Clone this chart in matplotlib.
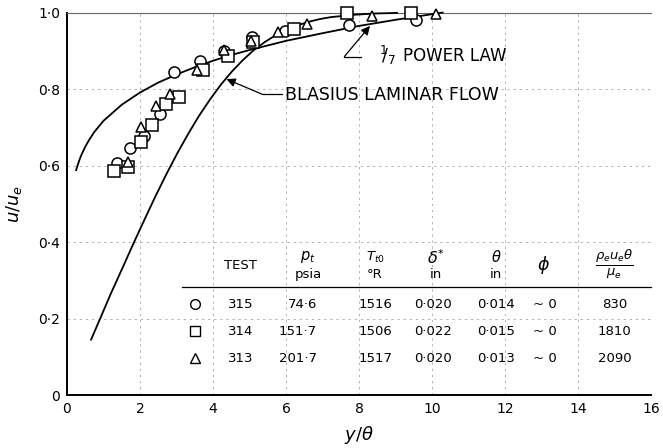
import matplotlib
matplotlib.use("Agg")
import matplotlib.pyplot as plt
from matplotlib.ticker import FuncFormatter

# ---------------- data ----------------
# Test 315 (circles)
circ_x = [1.36, 1.73, 2.12, 2.55, 2.94, 3.64, 4.31, 5.07, 5.96, 7.73, 9.56]
circ_y = [0.606, 0.646, 0.678, 0.736, 0.844, 0.873, 0.899, 0.936, 0.951, 0.968, 0.981]
# Test 314 (squares)
sq_x = [1.28, 1.67, 2.03, 2.33, 2.72, 3.07, 3.73, 4.42, 5.09, 6.23, 7.68, 9.43]
sq_y = [0.587, 0.596, 0.662, 0.706, 0.760, 0.779, 0.851, 0.886, 0.922, 0.957, 0.998, 0.998]
# Test 313 (triangles)
tri_x = [1.67, 2.03, 2.43, 2.81, 3.55, 4.31, 5.04, 5.78, 6.57, 8.35, 10.1]
tri_y = [0.610, 0.701, 0.756, 0.788, 0.851, 0.903, 0.925, 0.949, 0.970, 0.991, 0.997]

pow_x = [0.25, 0.30, 0.35, 0.40, 0.50, 0.60, 0.75, 1.0, 1.5, 2.0, 2.5, 3.0, 3.5,
         4.0, 4.5, 5.0, 6.0, 7.0, 8.0, 9.0, 10.29]
pow_y = [0.588, 0.603, 0.617, 0.629, 0.649, 0.666, 0.688, 0.717, 0.759, 0.791,
         0.817, 0.838, 0.857, 0.874, 0.889, 0.902, 0.926, 0.946, 0.965, 0.981, 1.0]

bla_x = [0.66, 0.90, 1.20, 1.51, 1.81, 2.11, 2.41, 2.71, 3.01, 3.31, 3.61, 3.92,
         4.22, 4.52, 4.82, 5.12, 5.42, 5.72, 6.02, 6.33, 6.63, 6.93, 7.23, 7.83,
         8.43, 9.04]
bla_y = [0.145, 0.198, 0.265, 0.330, 0.394, 0.456, 0.517, 0.575, 0.630, 0.681,
         0.729, 0.773, 0.812, 0.846, 0.876, 0.902, 0.923, 0.941, 0.956, 0.967,
         0.976, 0.983, 0.988, 0.994, 0.9975, 0.999]

# table contents
tests = ["315", "314", "313"]
p_t = ["74·6", "151·7", "201·7"]
T_t0 = ["1516", "1506", "1517"]
delta_star = ["0·020", "0·022", "0·020"]
theta = ["0·014", "0·015", "0·013"]
phi = ["~ 0", "~ 0", "~ 0"]
reynolds = ["830", "1810", "2090"]

x_ticks = list(range(0, 17, 2))
y_ticks = [0, 0.2, 0.4, 0.6, 0.8, 1.0]

# ---------------- figure ----------------
plt.rcParams['font.family'] = ['DejaVu Sans']
plt.rcParams['mathtext.fontset'] = 'dejavusans'

fig = plt.figure(figsize=(6.63, 4.48), dpi=100)
ax = fig.add_axes([0.101, 0.118, 0.881, 0.854])
ax.set_xlim(0, 16)
ax.set_ylim(0, 1.0)
ax.set_xticks(x_ticks)
ax.set_yticks(y_ticks)

def yfmt(v, pos):
    if abs(v) < 1e-9:
        return "0"
    return f"{v:.1f}".replace(".", "·")

ax.yaxis.set_major_formatter(FuncFormatter(yfmt))
ax.tick_params(length=0, labelsize=10, pad=5)

ax.grid(True, color="0.62", linewidth=0.55, linestyle=(0, (3, 5)))
ax.set_axisbelow(True)

for s in ["left", "bottom"]:
    ax.spines[s].set_linewidth(1.4)
ax.spines["right"].set_visible(False)
ax.spines["top"].set_linewidth(0.8)
ax.spines["top"].set_color("0.4")

# curves
ax.plot(pow_x, pow_y, color="black", lw=1.3, zorder=3, clip_on=False)
ax.plot(bla_x, bla_y, color="black", lw=1.3, zorder=3, clip_on=False)

mk = dict(linestyle="none", markerfacecolor="white", markeredgecolor="black",
          markeredgewidth=1.1, zorder=4, clip_on=False)
ax.plot(circ_x, circ_y, marker="o", markersize=8, **mk)
ax.plot(sq_x, sq_y, marker="s", markersize=8, **mk)
ax.plot(tri_x, tri_y, marker="^", markersize=7.5, **mk)

# annotations
arrow = dict(arrowstyle="-|>", color="black", lw=0.9, mutation_scale=13,
             shrinkA=0, shrinkB=0)
ax.annotate("", xy=(8.3, 0.965), xytext=(7.6, 0.885), arrowprops=arrow, zorder=5)
ax.plot([7.6, 8.05], [0.885, 0.885], color="black", lw=0.9)
ax.text(8.55, 0.887, r"$^{1}\!\!/_{7}$", fontsize=12.5, va="center", ha="left")
ax.text(9.2, 0.887, "POWER LAW", fontsize=12, va="center", ha="left")

ax.annotate("", xy=(4.37, 0.826), xytext=(5.36, 0.786), arrowprops=arrow, zorder=5)
ax.plot([5.36, 5.9], [0.786, 0.786], color="black", lw=0.9)
ax.text(5.98, 0.785, "BLASIUS LAMINAR FLOW", fontsize=12.5, va="center", ha="left")

# table
tf = 9.5
hy, hy_top, hy_bot = 0.34, 0.36, 0.315
ax.text(4.75, hy, "TEST", fontsize=tf, ha="center", va="center")
ax.text(6.6, hy_top, r"$p_t$", fontsize=tf + 1, ha="center", va="center")
ax.text(6.6, hy_bot, "psia", fontsize=tf, ha="center", va="center")
ax.text(8.44, hy_top, r"$T_{t0}$", fontsize=tf, ha="center", va="center")
ax.text(8.44, hy_bot, "°R", fontsize=tf, ha="center", va="center")
ax.text(10.1, hy_top, r"$\delta^{*}$", fontsize=tf + 2, ha="center", va="center")
ax.text(10.1, hy_bot, "in", fontsize=tf, ha="center", va="center")
ax.text(11.75, hy_top, r"$\theta$", fontsize=tf + 1, ha="center", va="center")
ax.text(11.75, hy_bot, "in", fontsize=tf, ha="center", va="center")
ax.text(13.05, hy, r"$\phi$", fontsize=tf + 3, ha="center", va="center")
ax.text(15.0, hy, r"$\frac{\rho_e u_e \theta}{\mu_e}$", fontsize=tf + 4,
        ha="center", va="center")
ax.plot([3.15, 16], [0.283, 0.283], color="black", lw=0.9, clip_on=False)

row_y = [0.238, 0.167, 0.097]
markers = [("o", 7), ("s", 7), ("^", 6.5)]
for i, yy in enumerate(row_y):
    m, ms = markers[i]
    ax.plot([3.5], [yy], marker=m, markersize=ms, linestyle="none",
            markerfacecolor="white", markeredgecolor="black", markeredgewidth=1.0)
    ax.text(4.75, yy, tests[i], fontsize=tf, ha="center", va="center")
    ax.text(6.85, yy, p_t[i], fontsize=tf, ha="right", va="center")
    ax.text(8.44, yy, T_t0[i], fontsize=tf, ha="center", va="center")
    ax.text(10.03, yy, delta_star[i], fontsize=tf, ha="center", va="center")
    ax.text(11.75, yy, theta[i], fontsize=tf, ha="center", va="center")
    ax.text(13.1, yy, phi[i], fontsize=tf, ha="center", va="center")
    ax.text(15.0, yy, reynolds[i], fontsize=tf, ha="center", va="center")

ax.set_xlabel(r"$y/\theta$", fontsize=13, labelpad=6)
ax.set_ylabel(r"$u/u_e$", fontsize=13, labelpad=10)

fig.savefig("out.png", dpi=100)
